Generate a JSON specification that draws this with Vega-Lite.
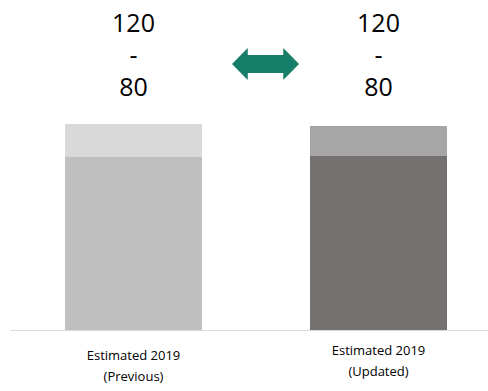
{
  "$schema": "https://vega.github.io/schema/vega-lite/v6.json",
  "width": 478,
  "height": 330,
  "autosize": {"type": "none"},
  "padding": {"left": 10, "top": 0, "right": 0, "bottom": 61},
  "background": "white",
  "config": {"view": {"stroke": null}, "font": "Open Sans"},
  "datasets": {
    "bars": [
      {"cat": "Estimated 2019 (Previous)", "segment": "Previous base", "start": 0, "end": 173},
      {"cat": "Estimated 2019 (Previous)", "segment": "Previous range", "start": 173, "end": 206},
      {"cat": "Estimated 2019 (Updated)", "segment": "Updated base", "start": 0, "end": 174},
      {"cat": "Estimated 2019 (Updated)", "segment": "Updated range", "start": 174, "end": 204}
    ],
    "labels": [
      {"cat": "Estimated 2019 (Previous)", "text": "120", "pos": 306},
      {"cat": "Estimated 2019 (Previous)", "text": "-", "pos": 274},
      {"cat": "Estimated 2019 (Previous)", "text": "80", "pos": 242},
      {"cat": "Estimated 2019 (Updated)", "text": "120", "pos": 306},
      {"cat": "Estimated 2019 (Updated)", "text": "-", "pos": 274},
      {"cat": "Estimated 2019 (Updated)", "text": "80", "pos": 242}
    ],
    "arrow": [
      {"cat": "Estimated 2019 (Previous)", "pos": 266}
    ]
  },
  "layer": [
    {
      "data": {"name": "bars"},
      "mark": {"type": "bar"},
      "encoding": {
        "x": {
          "field": "cat",
          "type": "nominal",
          "sort": null,
          "scale": {"paddingInner": 0.4408, "paddingOuter": 0.1959, "align": 0.573},
          "axis": {
            "title": null,
            "labelAngle": 0,
            "ticks": false,
            "grid": false,
            "domain": true,
            "domainColor": "#d9d9d9",
            "domainWidth": 1,
            "labelFont": "Open Sans",
            "labelFontSize": 13,
            "labelColor": "#000000",
            "labelLineHeight": 21,
            "labelPadding": {"condition": {"test": "indexof(datum.label, 'Updated') >= 0", "value": 14}, "value": 19},
            "labelExpr": "[slice(datum.label, 0, 14), slice(datum.label, 15)]"
          }
        },
        "y": {"field": "start", "type": "quantitative", "scale": {"domain": [0, 330], "nice": false, "zero": true}, "axis": null},
        "y2": {"field": "end"},
        "color": {
          "field": "segment",
          "type": "nominal",
          "scale": {
            "domain": ["Previous base", "Previous range", "Updated base", "Updated range"],
            "range": ["#bfbfbf", "#d9d9d9", "#767171", "#a6a6a6"]
          },
          "legend": null
        }
      }
    },
    {
      "data": {"name": "labels"},
      "mark": {"type": "text", "fontSize": 25, "font": "Open Sans", "baseline": "middle", "align": "center", "color": "#000000"},
      "encoding": {
        "x": {"field": "cat", "type": "nominal", "sort": null},
        "y": {"field": "pos", "type": "quantitative"},
        "text": {"field": "text"}
      }
    },
    {
      "data": {"name": "arrow"},
      "mark": {
        "type": "point",
        "shape": "M -1 0 L -0.53 -0.477 L -0.53 -0.27 L 0.53 -0.27 L 0.53 -0.477 L 1 0 L 0.53 0.477 L 0.53 0.27 L -0.53 0.27 L -0.53 0.477 Z",
        "filled": true,
        "color": "#177e68",
        "opacity": 1,
        "size": 4489,
        "strokeWidth": 0
      },
      "encoding": {
        "x": {"field": "cat", "type": "nominal", "sort": null, "bandPosition": 1.4635},
        "y": {"field": "pos", "type": "quantitative"}
      }
    }
  ]
}
